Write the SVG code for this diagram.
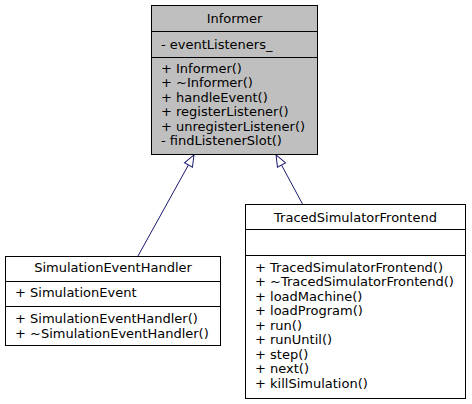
<svg xmlns="http://www.w3.org/2000/svg" width="472" height="404" viewBox="0 0 472 404">
<style>
.box{stroke:#000;stroke-width:1}
.t{font-family:"DejaVu Sans",sans-serif;font-size:13px;fill:#000}
.c{text-anchor:middle}
.edge{stroke:#191970;stroke-width:1;fill:none}
</style>
<defs>
<marker id="inh" markerUnits="userSpaceOnUse" markerWidth="14" markerHeight="12" refX="0" refY="5" orient="auto" overflow="visible">
<path d="M0,0.4 L11.5,5 L0,9.6 Z" fill="#fff" stroke="#191970" stroke-width="1"/>
</marker>
</defs>
<rect width="472" height="404" fill="#fff"/>
<g id="connectors">
<path class="edge" d="M138,256 L188.4,165" marker-end="url(#inh)"/>
<path class="edge" d="M302.5,204 L281.5,165" marker-end="url(#inh)"/>
</g>
<g id="Informer">
<rect class="box" x="151.5" y="5.5" width="166" height="149" fill="#bfbfbf"/>
<line class="box" x1="151.5" y1="31.5" x2="317.5" y2="31.5"/>
<line class="box" x1="151.5" y1="57.5" x2="317.5" y2="57.5"/>
<text class="t c" x="234.5" y="22.5">Informer</text>
<text class="t" x="161" y="49">- eventListeners_</text>
<text class="t" x="161" y="72.5">+ Informer()</text>
<text class="t" x="161" y="87">+ ~Informer()</text>
<text class="t" x="161" y="101.5">+ handleEvent()</text>
<text class="t" x="161" y="116">+ registerListener()</text>
<text class="t" x="161" y="130.5">+ unregisterListener()</text>
<text class="t" x="161" y="145">- findListenerSlot()</text>
</g>
<g id="SimulationEventHandler">
<rect class="box" x="5.5" y="256.5" width="215" height="89" fill="#fff"/>
<line class="box" x1="5.5" y1="281.5" x2="220.5" y2="281.5"/>
<line class="box" x1="5.5" y1="306.5" x2="220.5" y2="306.5"/>
<text class="t c" x="113" y="272">SimulationEventHandler</text>
<text class="t" x="15" y="297">+ SimulationEvent</text>
<text class="t" x="15" y="323">+ SimulationEventHandler()</text>
<text class="t" x="15" y="337.5">+ ~SimulationEventHandler()</text>
</g>
<g id="TracedSimulatorFrontend">
<rect class="box" x="245.5" y="204.5" width="220" height="194" fill="#fff"/>
<line class="box" x1="245.5" y1="229.5" x2="465.5" y2="229.5"/>
<line class="box" x1="245.5" y1="255.5" x2="465.5" y2="255.5"/>
<text class="t c" x="355.5" y="221.5">TracedSimulatorFrontend</text>
<text class="t" x="255" y="271.5">+ TracedSimulatorFrontend()</text>
<text class="t" x="255" y="286">+ ~TracedSimulatorFrontend()</text>
<text class="t" x="255" y="300.5">+ loadMachine()</text>
<text class="t" x="255" y="315">+ loadProgram()</text>
<text class="t" x="255" y="329.5">+ run()</text>
<text class="t" x="255" y="344">+ runUntil()</text>
<text class="t" x="255" y="358.5">+ step()</text>
<text class="t" x="255" y="373">+ next()</text>
<text class="t" x="255" y="387.5">+ killSimulation()</text>
</g>
</svg>
